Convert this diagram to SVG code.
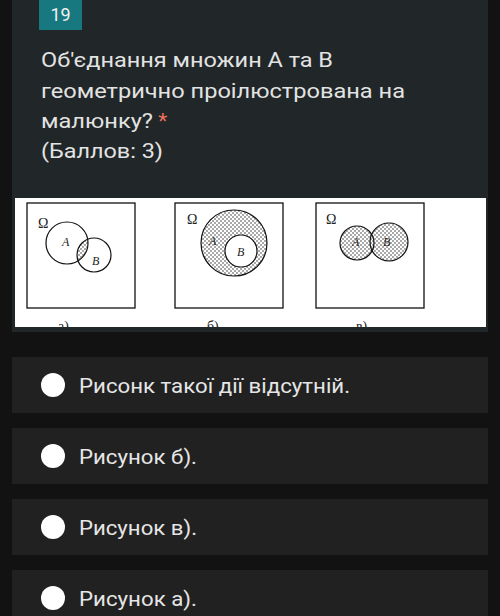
<svg xmlns="http://www.w3.org/2000/svg" width="500" height="616" viewBox="0 0 500 616">
<defs>
<style>
.q{font-family:Roboto,"Noto Sans",sans-serif;font-size:21px;fill:#e3e3e3}
.o{font-family:Roboto,"Noto Sans",sans-serif;font-size:21px;fill:#e6e6e6}
.fig{fill:none;stroke:#111;stroke-width:1.2}
.box{fill:#fff;stroke:#111;stroke-width:1.3}
.lab{font-family:"Liberation Serif",serif;font-style:italic;font-size:12px;fill:#222}
.om{font-family:"Liberation Serif",serif;font-size:14px;fill:#222}
.cap{font-family:"Liberation Serif",serif;font-size:14px;fill:#222}
.opt{fill:#212121}
.rad{fill:#fff}
</style>
<pattern id="dots" width="4" height="4" patternUnits="userSpaceOnUse">
<rect width="4" height="4" fill="#fff"/>
<circle cx="1" cy="1" r="0.7" fill="#111"/>
<circle cx="3" cy="3" r="0.7" fill="#111"/>
</pattern>
<clipPath id="clipA"><circle cx="67" cy="243" r="21"/></clipPath>
<clipPath id="imgclip"><rect x="15" y="198" width="471" height="129"/></clipPath>
</defs>
<rect width="500" height="616" fill="#121212"/>
<g id="card">
<rect x="12" y="0" width="476" height="332" fill="#212628"/>
<rect x="39" y="0" width="43" height="30" fill="#17797f"/>
<text x="60.5" y="21" text-anchor="middle" font-family="Roboto,sans-serif" font-size="18" fill="#f0f0f0">19</text>
<text class="q" x="41" y="67" textLength="292" lengthAdjust="spacingAndGlyphs">Об'єднання множин А та В</text>
<text class="q" x="41" y="98" textLength="364" lengthAdjust="spacingAndGlyphs">геометрично проілюстрована на</text>
<text class="q" x="41" y="128"><tspan textLength="112" lengthAdjust="spacingAndGlyphs">малюнку?</tspan> <tspan fill="#e8705c">*</tspan></text>
<text class="q" x="41" y="158" fill="#d5dde0" textLength="122" lengthAdjust="spacingAndGlyphs">(Баллов: 3)</text>
</g>
<g id="figure" clip-path="url(#imgclip)">
<rect x="15" y="198" width="471" height="129" fill="#fff"/>
<g id="fig-a">
<rect class="box" x="27" y="203" width="108" height="105"/>
<text class="om" x="38" y="228">Ω</text>
<circle cx="94" cy="255" r="17" fill="url(#dots)" clip-path="url(#clipA)"/>
<circle class="fig" cx="67" cy="243" r="21"/>
<circle class="fig" cx="94" cy="255" r="17"/>
<text class="lab" x="62" y="246">A</text>
<text class="lab" x="92" y="265">B</text>
<text class="cap" x="58" y="331">а)</text>
</g>
<g id="fig-b">
<rect class="box" x="175" y="203" width="108" height="105"/>
<text class="om" x="187" y="224">Ω</text>
<circle cx="234" cy="243" r="33" fill="url(#dots)" stroke="#111" stroke-width="1.2"/>
<circle cx="241" cy="251" r="16" fill="#fff" stroke="#111" stroke-width="1.2"/>
<text class="lab" x="209" y="245">A</text>
<text class="lab" x="237" y="256">B</text>
<text class="cap" x="207" y="331">б)</text>
</g>
<g id="fig-c">
<rect class="box" x="316" y="203" width="108" height="105"/>
<text class="om" x="326" y="224">Ω</text>
<circle cx="357" cy="243" r="17" fill="url(#dots)"/>
<circle cx="389" cy="242" r="19" fill="url(#dots)"/>
<circle class="fig" cx="357" cy="243" r="17"/>
<circle class="fig" cx="389" cy="242" r="19"/>
<text class="lab" x="352" y="246">A</text>
<text class="lab" x="383" y="246">B</text>
<text class="cap" x="356" y="331">в)</text>
</g>
</g>
<g id="opt1">
<rect class="opt" x="12" y="357" width="476" height="56"/>
<circle class="rad" cx="53" cy="385" r="12"/>
<text class="o" x="79" y="393" textLength="271" lengthAdjust="spacingAndGlyphs">Рисонк такої дії відсутній.</text>
</g>
<g id="opt2">
<rect class="opt" x="12" y="428" width="476" height="56"/>
<circle class="rad" cx="53" cy="456" r="12"/>
<text class="o" x="79" y="464" textLength="118" lengthAdjust="spacingAndGlyphs">Рисунок б).</text>
</g>
<g id="opt3">
<rect class="opt" x="12" y="499" width="476" height="56"/>
<circle class="rad" cx="53" cy="527" r="12"/>
<text class="o" x="79" y="535" textLength="118" lengthAdjust="spacingAndGlyphs">Рисунок в).</text>
</g>
<g id="opt4">
<rect class="opt" x="12" y="570" width="476" height="56"/>
<circle class="rad" cx="53" cy="598" r="12"/>
<text class="o" x="79" y="606" textLength="118" lengthAdjust="spacingAndGlyphs">Рисунок а).</text>
</g>
</svg>
